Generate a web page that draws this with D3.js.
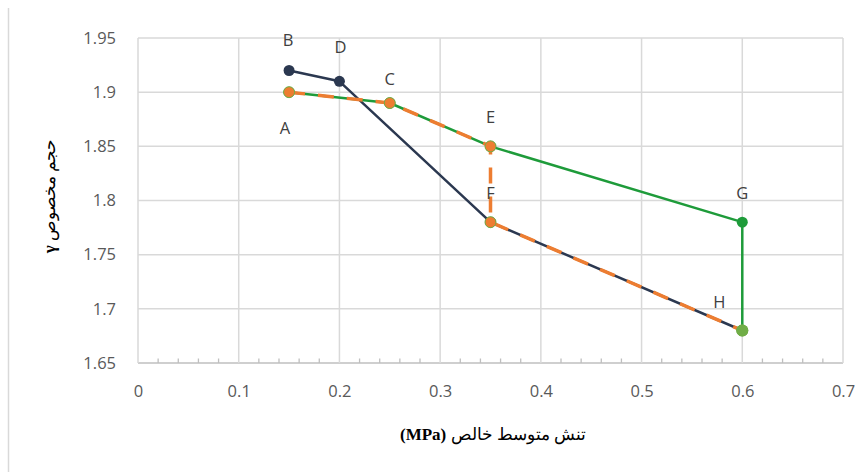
<!DOCTYPE html>
<html><head><meta charset="utf-8">
<script src="https://cdn.jsdelivr.net/npm/d3@7"></script>
<style>html,body{margin:0;padding:0;background:#fff;}</style>
</head><body>
<svg id="c" width="857" height="472"></svg>
<script>
// ---- data ----
const xTicks = [0, 0.1, 0.2, 0.3, 0.4, 0.5, 0.6, 0.7];
const yTicks = [1.65, 1.7, 1.75, 1.8, 1.85, 1.9, 1.95];
const xTickLabels = ["0", "0.1", "0.2", "0.3", "0.4", "0.5", "0.6", "0.7"];
const yTickLabels = ["1.65", "1.7", "1.75", "1.8", "1.85", "1.9", "1.95"];

const navyX = [0.15, 0.2, 0.35, 0.6];
const navyY = [1.92, 1.91, 1.78, 1.68];
const greenX = [0.15, 0.25, 0.35, 0.6, 0.6];
const greenY = [1.90, 1.89, 1.85, 1.78, 1.68];
const orangeX = [0.15, 0.25, 0.35, 0.35, 0.6];
const orangeY = [1.90, 1.89, 1.85, 1.78, 1.68];
const lightGreenX = [0.6];
const lightGreenY = [1.68];

const pointNames = ["A", "B", "C", "D", "E", "F", "G", "H"];
const pointX = [0.15, 0.15, 0.25, 0.2, 0.35, 0.35, 0.6, 0.6];
const pointY = [1.90, 1.92, 1.89, 1.91, 1.85, 1.78, 1.78, 1.68];

const xTitle = "تنش متوسط خالص ";
const xTitleUnit = "(MPa)";
const yTitle = "حجم مخصوص ";
const yTitleSym = "γ";

// ---- layout / style ----
const M = {left: 138, right: 843, top: 38, bottom: 363};
const labelOffsets = {A:[-4,35], B:[-1,-31], C:[0,-25], D:[1,-35], E:[0,-30], F:[0,-30], G:[0,-30], H:[-23,-29]};

const svg = d3.select("#c");
const x = d3.scaleLinear().domain([0, 0.7]).range([M.left, M.right]);
const y = d3.scaleLinear().domain([1.65, 1.95]).range([M.bottom, M.top]);

// outer border (left only visible)
svg.append("line").attr("x1", 8.5).attr("x2", 8.5).attr("y1", 8).attr("y2", 472)
  .attr("stroke", "#d9d9d9").attr("stroke-width", 1.5);

// gridlines
const g = svg.append("g");
g.selectAll(".hg").data(yTicks).join("line")
  .attr("x1", M.left).attr("x2", M.right)
  .attr("y1", d => y(d)).attr("y2", d => y(d))
  .attr("stroke", d => d === 1.65 ? "#bfbfbf" : "#d9d9d9").attr("stroke-width", 1.5);
g.selectAll(".vg").data(xTicks).join("line")
  .attr("x1", d => x(d)).attr("x2", d => x(d))
  .attr("y1", M.top).attr("y2", M.bottom)
  .attr("stroke", "#d9d9d9").attr("stroke-width", 1.5);

// minor ticks on x axis (inside)
const minor = d3.range(0, 71, 2).map(v => v / 100).filter(v => Math.round(v * 100) % 10 !== 0);
g.selectAll(".mt").data(minor).join("line")
  .attr("x1", d => x(d)).attr("x2", d => x(d))
  .attr("y1", M.bottom).attr("y2", M.bottom - 4.5)
  .attr("stroke", "#bfbfbf").attr("stroke-width", 1.3);

// axes with d3
const tickFont = "'Open Sans', 'DejaVu Sans', sans-serif";
const xa = svg.append("g").attr("transform", `translate(0,${M.bottom})`)
  .call(d3.axisBottom(x).tickValues(xTicks).tickSize(0).tickPadding(22)
    .tickFormat((d, i) => xTickLabels[i]));
const ya = svg.append("g").attr("transform", `translate(${M.left},0)`)
  .call(d3.axisLeft(y).tickValues(yTicks).tickSize(0).tickPadding(22)
    .tickFormat((d, i) => yTickLabels[i]));
[xa, ya].forEach(a => {
  a.select(".domain").remove();
  a.selectAll("text").attr("font-family", tickFont).attr("font-size", 16.5).attr("fill", "#595959");
});

// lines
const pts = (xs, ys) => xs.map((v, i) => [v, ys[i]]);
const line = d3.line().x(d => x(d[0])).y(d => y(d[1]));

function series(xs, ys, color, width, dash, mfill, mstroke) {
  const data = pts(xs, ys);
  svg.append("path").datum(data).attr("d", line)
    .attr("fill", "none").attr("stroke", color).attr("stroke-width", width)
    .attr("stroke-dasharray", dash).attr("stroke-linejoin", "round");
  svg.append("g").selectAll("circle").data(data).join("circle")
    .attr("cx", d => x(d[0])).attr("cy", d => y(d[1])).attr("r", 5.5)
    .attr("fill", mfill).attr("stroke", mstroke || "none").attr("stroke-width", 1);
}
series(navyX, navyY, "#2b3850", 2.5, null, "#2b3850");
series(greenX, greenY, "#1e9b3a", 2.5, null, "#1e9b3a");
series(orangeX, orangeY, "#ed7d31", 3.5, "16,13", "#ed7d31", "#70ad47");
svg.append("g").selectAll("circle").data(pts(lightGreenX, lightGreenY)).join("circle")
  .attr("cx", d => x(d[0])).attr("cy", d => y(d[1])).attr("r", 6).attr("fill", "#70ad47");

// point labels
svg.append("g").selectAll("text").data(pointNames).join("text")
  .attr("x", (d, i) => x(pointX[i]) + labelOffsets[d][0])
  .attr("y", (d, i) => y(pointY[i]) + labelOffsets[d][1])
  .attr("text-anchor", "middle").attr("dominant-baseline", "central")
  .attr("font-family", tickFont).attr("font-size", 16.5).attr("fill", "#404040")
  .text(d => d);

// axis titles
const serif = "'Liberation Serif', 'DejaVu Serif', serif";
const xt = svg.append("text").attr("x", 493).attr("y", 440)
  .attr("text-anchor", "middle").attr("direction", "rtl")
  .attr("font-family", serif).attr("font-size", 17).attr("fill", "#000");
xt.append("tspan").text(xTitle);
xt.append("tspan").attr("font-weight", "bold").text(xTitleUnit);

const yt = svg.append("text").attr("transform", "translate(55,196) rotate(-90)")
  .attr("text-anchor", "middle").attr("direction", "rtl")
  .attr("font-family", serif).attr("font-size", 17).attr("fill", "#000");
yt.append("tspan").text(yTitle);
yt.append("tspan").attr("font-weight", "bold").text(yTitleSym);
</script>
</body></html>
